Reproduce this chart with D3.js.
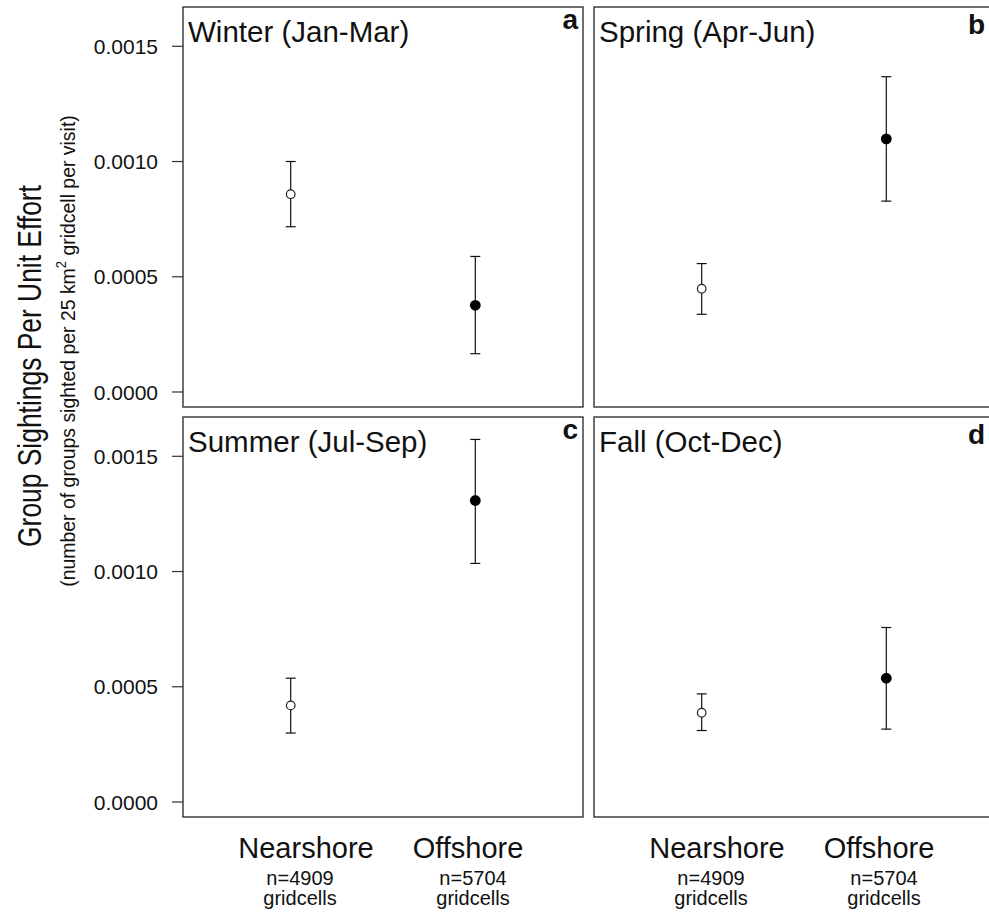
<!DOCTYPE html>
<html>
<head>
<meta charset="utf-8">
<script src="https://cdn.jsdelivr.net/npm/d3@7"></script>
<style>
  html, body { margin: 0; padding: 0; background: #fff; }
  svg { display: block; font-family: "Liberation Sans", Arial, sans-serif; }
</style>
</head>
<body>
<svg id="chart" width="989" height="913"></svg>
<script>
// Seasonal group sightings per unit effort, nearshore vs offshore
const seasons = ["Winter (Jan-Mar)", "Spring (Apr-Jun)", "Summer (Jul-Sep)", "Fall (Oct-Dec)"];
const panelLetters = ["a", "b", "c", "d"];
const zones = ["Nearshore", "Offshore"];
const zoneCounts = ["n=4909", "n=5704"];
const zoneUnits = ["gridcells", "gridcells"];

// mean and interval bounds, one entry per season
const nearMean = [0.000856, 0.000446, 0.000417, 0.000385];
const nearLow  = [0.000715, 0.000335, 0.000297, 0.000308];
const nearHigh = [0.000998, 0.000555, 0.000535, 0.000467];
const offMean  = [0.000374, 0.001096, 0.001306, 0.000535];
const offLow   = [0.000164, 0.000826, 0.001033, 0.000314];
const offHigh  = [0.000586, 0.001366, 0.001571, 0.000755];

const yTicks = [0, 0.0005, 0.0010, 0.0015];

const W = 989, H = 913;
const svg = d3.select("#chart");

const panelSize = 400;
const colLeft = [183, 594];
const rowTop = [7, 417];

const x = d3.scaleLinear().domain([0.4166, 2.5834]).range([0, panelSize]);
const y = d3.scaleLinear().domain([-0.0000673, 0.0016684]).range([panelSize, 0]);

const ink = "#111";

seasons.forEach((season, i) => {
  const col = i % 2, row = Math.floor(i / 2);
  const left = colLeft[col], top = rowTop[row];
  const g = svg.append("g").attr("transform", `translate(${left},${top})`);

  const pts = [
    {zone: 0, mean: nearMean[i], lo: nearLow[i], hi: nearHigh[i]},
    {zone: 1, mean: offMean[i], lo: offLow[i], hi: offHigh[i]}
  ];

  // error bars
  const capHalf = 5;
  pts.forEach(p => {
    const cx = x(p.zone + 1);
    g.append("line").attr("x1", cx).attr("x2", cx).attr("y1", y(p.lo)).attr("y2", y(p.hi))
      .attr("stroke", ink).attr("stroke-width", 1.2);
    [p.lo, p.hi].forEach(v => {
      g.append("line").attr("x1", cx - capHalf).attr("x2", cx + capHalf)
        .attr("y1", y(v)).attr("y2", y(v))
        .attr("stroke", ink).attr("stroke-width", 1.2);
    });
  });

  // points: open for nearshore, filled for offshore
  g.selectAll("circle.pt").data(pts).join("circle")
    .attr("class", "pt")
    .attr("cx", d => x(d.zone + 1))
    .attr("cy", d => y(d.mean))
    .attr("r", d => d.zone === 0 ? 4.3 : 5.4)
    .attr("fill", d => d.zone === 0 ? "#fff" : "#000")
    .attr("stroke", d => d.zone === 0 ? "#222" : "none")
    .attr("stroke-width", 1.2);

  // frame
  g.append("rect").attr("x", 0).attr("y", 0).attr("width", panelSize).attr("height", panelSize)
    .attr("fill", "none").attr("stroke", "#333").attr("stroke-width", 1.4);

  // season title
  g.append("text").attr("x", 5).attr("y", 34.5)
    .attr("font-size", 29.5).attr("fill", ink).text(season);

  // panel letter, glyph top aligned just under the frame
  const letter = panelLetters[i];
  const lfs = 28;
  const tall = /[bdfhklt]/.test(letter);
  const lx = Math.min(left + panelSize - 5, W - 4) - left;
  g.append("text")
    .attr("x", lx)
    .attr("y", 7 + (tall ? 0.73 : 0.52) * lfs)
    .attr("text-anchor", "end")
    .attr("font-size", lfs).attr("font-weight", "bold").attr("fill", ink)
    .text(letter);

  // y axis on left column only
  if (col === 0) {
    const axis = d3.axisLeft(y).tickValues(yTicks).tickFormat(d3.format(".4f"))
      .tickSize(11).tickPadding(14);
    const ag = g.append("g").call(axis);
    ag.select(".domain").remove();
    ag.selectAll(".tick line").attr("stroke", "#333").attr("stroke-width", 1.2);
    ag.selectAll(".tick text").attr("font-size", 21).attr("fill", ink)
      .attr("font-family", "Liberation Sans, Arial, sans-serif").attr("dy", "0.36em");
  }
});

// category labels under each column
colLeft.forEach(left => {
  const nameCenters = [left + 123, left + 285];
  const countCenters = [left + 117, left + 290];
  zones.forEach((z, k) => {
    svg.append("text").attr("x", nameCenters[k]).attr("y", 858)
      .attr("text-anchor", "middle").attr("font-size", 29).attr("fill", ink).text(z);
    svg.append("text").attr("x", countCenters[k]).attr("y", 885)
      .attr("text-anchor", "middle").attr("font-size", 20).attr("fill", ink).text(zoneCounts[k]);
    svg.append("text").attr("x", countCenters[k]).attr("y", 905)
      .attr("text-anchor", "middle").attr("font-size", 20).attr("fill", ink).text(zoneUnits[k]);
  });
});

// rotated y-axis titles, condensed along their length
function rotatedTitle(cx, cy, fontSize, targetLen, build) {
  const g = svg.append("g");
  const t = g.append("text").attr("font-size", fontSize).attr("fill", ink)
    .attr("text-anchor", "middle");
  build(t);
  const len = t.node().getComputedTextLength();
  const s = targetLen / len;
  g.attr("transform", `translate(${cx},${cy}) rotate(-90) scale(${s},1)`);
}

rotatedTitle(41, 366, 33, 362, t => t.text("Group Sightings Per Unit Effort"));
rotatedTitle(75, 351, 21, 472, t => {
  t.append("tspan").text("(number of groups sighted per 25 km");
  t.append("tspan").attr("font-size", 14).attr("dy", -9).text("2");
  t.append("tspan").attr("dy", 9).text(" gridcell per visit)");
});
</script>
</body>
</html>
